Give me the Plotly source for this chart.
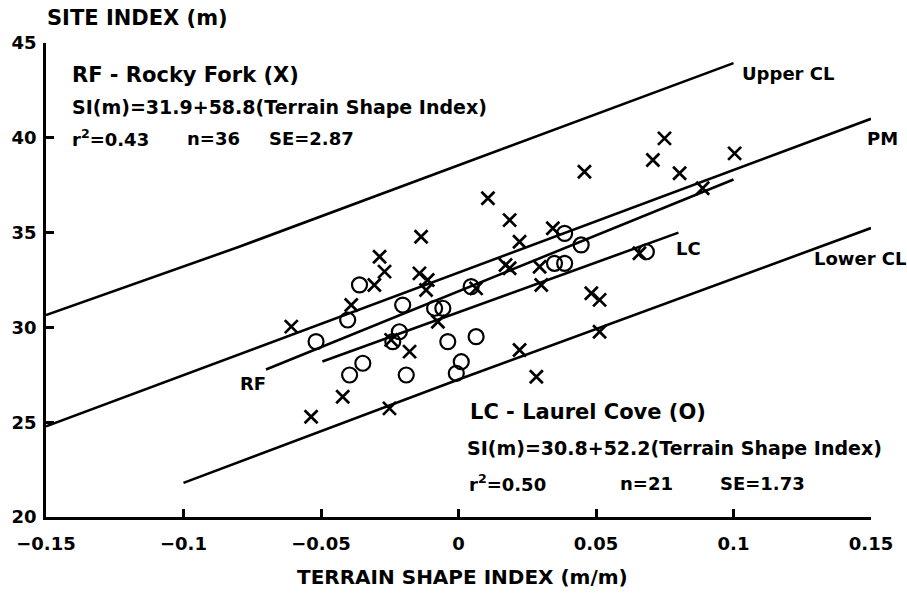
import plotly.graph_objects as go

# ---- data ----
rf_x = [-0.0136, -0.0287, -0.0269, -0.0306, -0.0390, -0.0608, -0.0142, -0.0112,
        -0.0118, -0.0075, -0.0245, -0.0178, -0.0421, -0.0251, -0.0536, 0.0458,
        0.0107, 0.0186, 0.0222, 0.0343, 0.0186, 0.0171, 0.0295, 0.0301,
        0.0064, 0.0483, 0.0513, 0.0513, 0.0222, 0.0283, 0.0658, 0.0749,
        0.0707, 0.0804, 0.1004, 0.0888]
rf_y = [34.78, 33.73, 32.94, 32.24, 31.18, 30.04, 32.85, 32.50,
        31.97, 30.30, 29.34, 28.72, 26.34, 25.73, 25.29, 38.21,
        36.81, 35.66, 34.52, 35.23, 33.12, 33.29, 33.20, 32.24,
        32.06, 31.80, 31.45, 29.77, 28.81, 27.40, 33.91, 39.97,
        38.83, 38.13, 39.18, 37.34]

lc_x = [-0.0360, -0.0203, -0.0403, -0.0518, -0.0215, -0.0239, -0.0087, -0.0057,
        -0.0039, -0.0348, -0.0396, -0.0190, -0.0008, 0.0010, 0.0386, 0.0446,
        0.0349, 0.0386, 0.0046, 0.0064, 0.0683]
lc_y = [32.24, 31.18, 30.39, 29.25, 29.77, 29.25, 31.01, 31.01,
        29.25, 28.11, 27.49, 27.49, 27.58, 28.19, 34.96, 34.35,
        33.38, 33.38, 32.15, 29.51, 33.99]

upper_cl_x = [-0.15, -0.08, 0.0, 0.10]
upper_cl_y = [30.65, 34.24, 38.55, 43.94]
pm_x = [-0.15, 0.15]
pm_y = [24.78, 41.0]
lower_cl_x = [-0.10, 0.0, 0.15]
lower_cl_y = [21.8, 27.25, 35.24]
rf_line_x = [-0.070, 0.100]
rf_line_y = [27.78, 37.8]
lc_line_x = [-0.0495, 0.080]
lc_line_y = [28.2, 35.0]

x_ticks = [-0.15, -0.1, -0.05, 0, 0.05, 0.1, 0.15]
x_tick_text = ["\u22120.15", "\u22120.1", "\u22120.05", "0", "0.05", "0.1", "0.15"]
y_ticks = [20, 25, 30, 35, 40, 45]
y_tick_text = ["20", "25", "30", "35", "40", "45"]

FONT = "DejaVu Sans"
LW = 2.6

fig = go.Figure()

def add_line(xs, ys):
    fig.add_trace(go.Scatter(x=xs, y=ys, mode="lines",
                             line=dict(color="black", width=LW),
                             showlegend=False, hoverinfo="skip"))

for xs, ys in [(upper_cl_x, upper_cl_y), (pm_x, pm_y), (lower_cl_x, lower_cl_y),
               (rf_line_x, rf_line_y), (lc_line_x, lc_line_y)]:
    add_line(xs, ys)

fig.add_trace(go.Scatter(x=rf_x, y=rf_y, mode="markers", name="Rocky Fork",
                         marker=dict(symbol="x-thin", size=13, color="black",
                                     line=dict(color="black", width=2.7)),
                         showlegend=False))
fig.add_trace(go.Scatter(x=lc_x, y=lc_y, mode="markers", name="Laurel Cove",
                         marker=dict(symbol="circle-open", size=15, color="black",
                                     line=dict(color="black", width=2.2)),
                         showlegend=False))

def px2x(px):
    return (px - 459) / 2750.0

def py2y(py):
    return 20 + (517 - py) / 18.96

annots = [
    # (text, px_left, py_center, size)
    ("RF - Rocky Fork (X)", 70, 75, 21),
    ("SI(m)=31.9+58.8(Terrain Shape Index)", 70, 107, 19),
    ("r<sup>2</sup>=0.43", 70, 138, 18),
    ("n=36", 185, 138, 18),
    ("SE=2.87", 267, 138, 18),
    ("Upper CL", 740, 73, 18),
    ("PM", 865, 138, 18),
    ("LC", 674, 248, 18),
    ("Lower CL", 812, 258, 18),
    ("RF", 238, 383, 18),
    ("LC - Laurel Cove (O)", 468, 412, 21),
    ("SI(m)=30.8+52.2(Terrain Shape Index)", 465, 448, 19),
    ("r<sup>2</sup>=0.50", 467, 483, 18),
    ("n=21", 618, 483, 18),
    ("SE=1.73", 718, 483, 18),
]
for text, px, py, fs in annots:
    fig.add_annotation(x=px2x(px), y=py2y(py), xref="x", yref="y", text=text,
                       showarrow=False, xanchor="left", yanchor="middle",
                       font=dict(family=FONT, size=fs, color="black", weight="bold"))

# outside texts (paper coords)
fig.add_annotation(x=0, y=(517 - 18) / 474.0, xref="paper", yref="paper",
                   text="SITE INDEX (m)", showarrow=False, xanchor="left", yanchor="middle",
                   xshift=-1,
                   font=dict(family=FONT, size=21, color="black", weight="bold"))
fig.add_annotation(x=0.5, y=-(577 - 517) / 474.0, xref="paper", yref="paper",
                   text="TERRAIN SHAPE INDEX (m/m)", showarrow=False, xanchor="center",
                   yanchor="middle", xshift=4,
                   font=dict(family=FONT, size=20, color="black", weight="bold"))

axis_common = dict(showline=True, linecolor="black", linewidth=2.5, ticks="inside",
                   ticklen=8, tickwidth=2.5, tickcolor="black", showgrid=False,
                   zeroline=False, mirror=False,
                   tickfont=dict(family=FONT, size=18, color="black", weight="bold"))

fig.update_xaxes(range=[-0.15, 0.15], tickvals=x_ticks, ticktext=x_tick_text,
                 ticklabelstandoff=9, **axis_common)
fig.update_yaxes(range=[20, 45], tickvals=y_ticks, ticktext=y_tick_text,
                 ticklabelstandoff=3, **axis_common)

fig.update_layout(width=907, height=593, margin=dict(l=46, r=36, t=43, b=76),
                  plot_bgcolor="white", paper_bgcolor="white", showlegend=False)

fig.write_html("out.html", config={"displayModeBar": False},
               post_script="document.body.style.margin='0';document.body.style.padding='0';")
